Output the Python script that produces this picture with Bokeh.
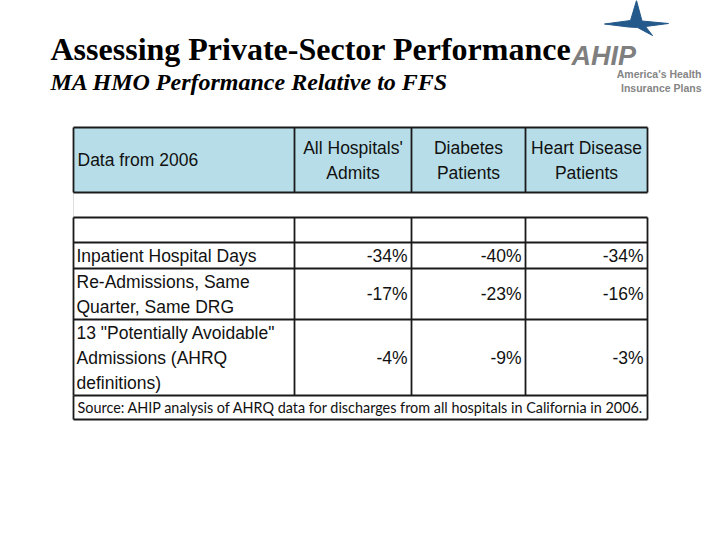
from bokeh.plotting import figure
from bokeh.models import Range1d, ColumnDataSource
from bokeh.core.properties import value
from bokeh.embed import file_html
from bokeh.resources import INLINE

# ---- data ----
title = "Assessing Private-Sector Performance"
subtitle = "MA HMO Performance Relative to FFS"
corner_label = "Data from 2006"
col_headers = ["All Hospitals'\nAdmits", "Diabetes\nPatients", "Heart Disease\nPatients"]
row_labels = ["Inpatient Hospital Days",
              "Re-Admissions, Same\nQuarter, Same DRG",
              '13 "Potentially Avoidable"\nAdmissions (AHRQ\ndefinitions)']
all_hosp = [-34, -17, -4]
diabetes = [-40, -23, -9]
heart = [-34, -16, -3]
source_note = "Source:  AHIP analysis of AHRQ data for discharges from all hospitals in California in 2006."

# ---- layout (page pixel coordinates) ----
X_EDGES = [73, 294, 411, 525, 647]
HEAD_TOP, HEAD_BOT = 127, 192
BODY_EDGES = [217, 242, 268, 319, 395, 419]
LINE_H = 25
TABLE_FONT = "Liberation Sans"

p = figure(width=704, height=524, output_backend="svg", toolbar_location=None,
           x_range=Range1d(0, 704), y_range=Range1d(524, 0),
           min_border=0, outline_line_color=None)
p.axis.visible = False
p.grid.visible = False
p.background_fill_color = "white"
p.border_fill_color = "white"

# title
p.text(x=[50], y=[48], text=[title], text_font=value("Liberation Serif"),
       text_font_style="bold", text_font_size="32px", text_color="black",
       text_baseline="alphabetic")
p.text(x=[50], y=[81], text=[subtitle], text_font=value("Liberation Serif"),
       text_font_style="bold italic", text_font_size="24px", text_color="black",
       text_baseline="alphabetic")

# logo
star_x = [636, 641.5, 668, 645, 652, 637, 628, 604, 630]
star_y = [0, 20.5, 23, 26, 35, 27, 26.5, 23.5, 20]
p.patch(star_x, star_y, fill_color="#24598b", line_color="#24598b", line_width=1)
p.text(x=[571], y=[55], text=["AHIP"], text_font=value("Liberation Sans"),
       text_font_style="bold italic", text_font_size="27px", text_color="#7f7f7f",
       text_baseline="alphabetic")
p.text(x=[701, 701], y=[73, 87], text=["America's Health", "Insurance Plans"],
       text_font=value("Liberation Sans"), text_font_style="bold",
       text_font_size="10.5px", text_color="#858585", text_baseline="alphabetic",
       text_align="right")

# header band
p.quad(left=[X_EDGES[0]], right=[X_EDGES[-1]], top=[HEAD_TOP], bottom=[HEAD_BOT],
       fill_color="#b7dee8", line_color=None)
# faint gap edge
p.segment(x0=[X_EDGES[0]], y0=[HEAD_BOT], x1=[X_EDGES[0]], y1=[BODY_EDGES[0]],
          line_color="#dddddd", line_width=1)

# grid lines
lc, lw = "#1a1a1a", 1.8
hx0 = [X_EDGES[0], X_EDGES[0]] + X_EDGES
hy0 = [HEAD_TOP, HEAD_BOT] + [HEAD_TOP] * len(X_EDGES)
hx1 = [X_EDGES[-1], X_EDGES[-1]] + X_EDGES
hy1 = [HEAD_TOP, HEAD_BOT] + [HEAD_BOT] * len(X_EDGES)
p.segment(x0=hx0, y0=hy0, x1=hx1, y1=hy1, line_color=lc, line_width=lw)
p.segment(x0=[X_EDGES[0]] * len(BODY_EDGES), y0=BODY_EDGES,
          x1=[X_EDGES[-1]] * len(BODY_EDGES), y1=BODY_EDGES,
          line_color=lc, line_width=lw)
p.segment(x0=X_EDGES, y0=[BODY_EDGES[0]] * len(X_EDGES),
          x1=X_EDGES, y1=[BODY_EDGES[-2]] * len(X_EDGES),
          line_color=lc, line_width=lw)
p.segment(x0=[X_EDGES[0], X_EDGES[-1]], y0=[BODY_EDGES[-2]] * 2,
          x1=[X_EDGES[0], X_EDGES[-1]], y1=[BODY_EDGES[-1]] * 2,
          line_color=lc, line_width=lw)

def lines_in(label, cy):
    parts = label.split("\n")
    n = len(parts)
    return [(t, cy + (i - (n - 1) / 2) * LINE_H) for i, t in enumerate(parts)]

tx, ty, tt, ta = [], [], [], []
head_cy = (HEAD_TOP + HEAD_BOT) / 2
for t, y in lines_in(corner_label, head_cy):
    tx.append(X_EDGES[0] + 4); ty.append(y); tt.append(t); ta.append("left")
for j, lab in enumerate(col_headers):
    cx = (X_EDGES[j + 1] + X_EDGES[j + 2]) / 2
    for t, y in lines_in(lab, head_cy):
        tx.append(cx); ty.append(y); tt.append(t); ta.append("center")

series = [all_hosp, diabetes, heart]
for i, lab in enumerate(row_labels):
    cy = (BODY_EDGES[i + 1] + BODY_EDGES[i + 2]) / 2
    for t, y in lines_in(lab, cy):
        tx.append(X_EDGES[0] + 3); ty.append(y); tt.append(t); ta.append("left")
    for j, s in enumerate(series):
        tx.append(X_EDGES[j + 2] - 4); ty.append(cy); tt.append(f"{s[i]}%"); ta.append("right")

src = ColumnDataSource(dict(x=tx, y=ty, text=tt, align=ta))
p.text(x="x", y="y", text="text", text_align="align", source=src,
       text_font=value(TABLE_FONT), text_font_size="17.5px", text_color="#111111",
       text_baseline="middle")

p.text(x=[X_EDGES[0] + 4], y=[(BODY_EDGES[-2] + BODY_EDGES[-1]) / 2], text=[source_note],
       text_font=value("Lato"), text_font_size="14.4px", text_color="#111111",
       text_baseline="middle")

open("out.html", "w").write(file_html(p, INLINE))
